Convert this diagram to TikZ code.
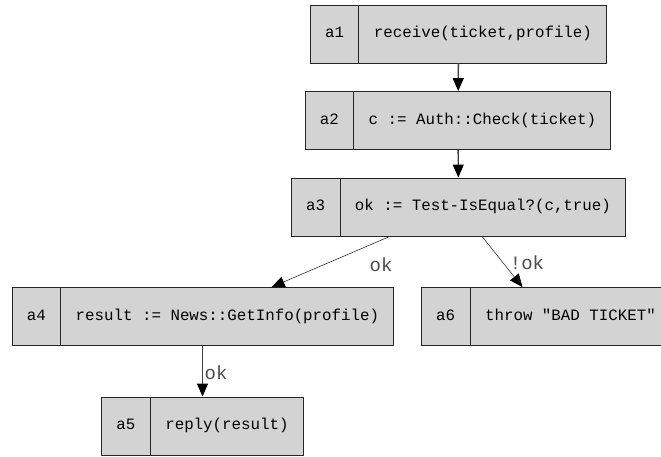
\documentclass[tikz,border=0pt]{standalone}
\usepackage{fontspec}
\usepackage{tikz}
\usepackage{xcolor}
\usetikzlibrary{shapes.multipart,arrows.meta}
\newfontfamily\codefont{Liberation Mono}
\definecolor{boxgray}{HTML}{D3D3D3}
\definecolor{linegray}{HTML}{404040}

\begin{document}
\begin{tikzpicture}[x=1pt, y=1pt,
    act/.style={rectangle split, rectangle split horizontal, rectangle split parts=2,
        draw=black!85, fill=boxgray, line width=0.9pt,
        font={\codefont\fontsize{15.8}{19}\selectfont},
        inner xsep=14.5pt, inner ysep=19.5pt},
    flow/.style={draw=linegray, line width=1.4pt, -{Triangle[length=13pt, width=11pt, color=black]}},
    thinflow/.style={draw=black!80, line width=0.6pt, -{Triangle[length=13pt, width=11pt, color=black]}},
    lbl/.style={text=black!70, inner sep=0pt, font={\codefont\fontsize{19}{22}\selectfont}}]
            \useasboundingbox (0,0) rectangle (661,-457);

            \node[act] (a1) at (458.5, -34) {\strut a1\nodepart{two}\strut receive(ticket,profile)};
            \node[act] (a2) at (458, -120.5) {\strut a2\nodepart{two}\strut c := Auth::Check(ticket)};
            \node[act] (a3) at (458.5, -207) {\strut a3\nodepart{two}\strut ok := Test-IsEqual?(c,true)};
            \node[act] (a4) at (203, -316.5) {\strut a4\nodepart{two}\strut result := News::GetInfo(profile)};
            \node[act] (a5) at (202.5, -426) {\strut a5\nodepart{two}\strut reply(result)};
            % right edge of a6 runs off the page
            \node[act] (a6) at (546, -316.5) {\strut a6\nodepart{two}\strut throw "BAD TICKET"\hspace{9pt}};

            \node[lbl] (ok1) at (381, -265) {ok};
            \node[lbl] (notok) at (527, -263) {!ok};
            \node[lbl] (ok2) at (216, -373) {ok};

            \draw[flow] (a1) -- (a2);
            \draw[flow] (a2) -- (a3);
            \draw[thinflow] (a3) -- (a4);
            \draw[thinflow] (a3) -- (a6);
            \draw[flow] (a4.south -| a5.north) -- (a5.north);
        \end{tikzpicture}
\end{document}
